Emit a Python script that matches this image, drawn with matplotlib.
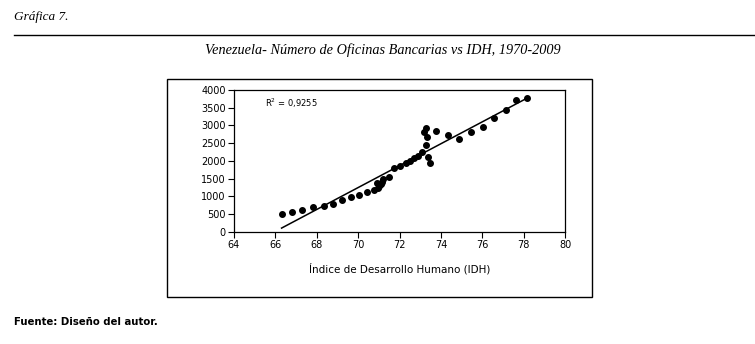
import numpy as np
import matplotlib.pyplot as plt
from matplotlib.patches import Rectangle
from matplotlib.lines import Line2D

# IDH vs numero de oficinas bancarias, 1970-2009
idh = [66.3, 66.8, 67.3, 67.8, 68.35, 68.8, 69.24, 69.64, 70.06, 70.41,
       70.78, 70.93, 70.95, 71.0, 71.09, 71.15, 71.2, 71.5, 71.73, 72.0,
       72.3, 72.5, 72.7, 72.9, 73.1, 73.3, 73.35, 73.2, 73.27, 73.4,
       73.47, 73.76, 74.36, 74.89, 75.46, 76.04, 76.55, 77.13, 77.63, 78.15]
oficinas = [508, 556, 613, 689, 735, 791, 895, 971, 1028, 1130,
            1169, 1367, 1240, 1291, 1347, 1412, 1480, 1537, 1808, 1856,
            1932, 2006, 2073, 2147, 2260, 2449, 2684, 2825, 2938, 2119,
            1949, 2853, 2732, 2619, 2816, 2966, 3212, 3446, 3720, 3785]

xticks = [64, 66, 68, 70, 72, 74, 76, 78, 80]
yticks = [0, 500, 1000, 1500, 2000, 2500, 3000, 3500, 4000]

titulo = 'Venezuela- Número de Oficinas Bancarias vs IDH, 1970-2009'
etiqueta_x = 'Índice de Desarrollo Humano (IDH)'

fig = plt.figure(figsize=(7.55, 3.44), dpi=100)

# textos de la pagina
fig.text(14/755, 1 - 17/344, 'Gráfica 7.', fontsize=9.5, family='Liberation Serif',
         style='italic', va='center', ha='left')
fig.add_artist(Line2D([14/755, 1.0], [1 - 35/344, 1 - 35/344], color='black', lw=1.0))
fig.text(383/755, 1 - 50/344, titulo, fontsize=10.3, family='Liberation Serif',
         style='italic', va='center', ha='center')
fig.text(14/755, 1 - 322/344, 'Fuente: Diseño del autor.', fontsize=7.3,
         family='DejaVu Sans', weight='bold', va='center', ha='left')

# marco exterior
fig.add_artist(Rectangle((167/755, 1 - 297/344), 425/755, 218/344,
                         fill=False, edgecolor='black', lw=1.0))

ax = fig.add_axes([234/755, 1 - 231.7/344, 331/755, 141.7/344])
ax.scatter(idh, oficinas, s=16, color='black', zorder=3)

# linea de tendencia
coef = np.polyfit(idh, oficinas, 1)
xs = np.linspace(min(idh), max(idh), 100)
ax.plot(xs, np.polyval(coef, xs), color='black', lw=1.1)

ax.text(65.5, 3630, 'R$^{2}$ = 0,9255', fontsize=6, family='DejaVu Sans', va='center')

ax.set_xlim(64, 80)
ax.set_ylim(0, 4000)
ax.set_xticks(xticks)
ax.set_yticks(yticks)
ax.tick_params(labelsize=7, length=4, width=0.8, direction='out', pad=2)
for s in ax.spines.values():
    s.set_linewidth(0.9)
ax.set_xlabel(etiqueta_x, fontsize=7.5, labelpad=9)

fig.savefig('out.png', dpi=100)
